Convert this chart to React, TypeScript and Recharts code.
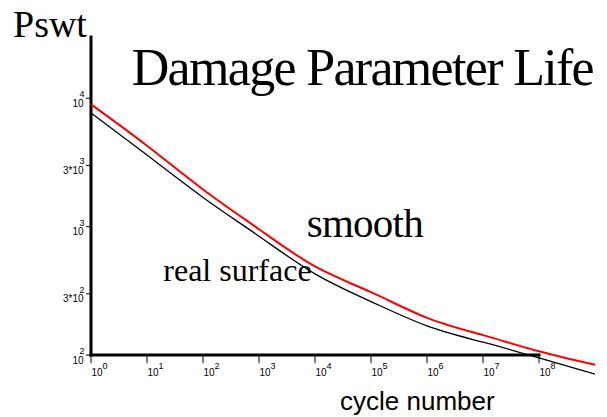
import React from 'react'
import { LineChart, Line, XAxis, YAxis, ReferenceLine, ReferenceDot } from 'recharts'

// cycle number (log scale), one point per decade
const cycles = [1, 1e1, 1e2, 1e3, 1e4, 1e5, 1e6, 1e7, 1e8, 1e9]
// damage parameter Pswt
const smooth = [8970, 4270, 1950, 955, 490, 309, 195, 143, 107, 84]
const realSurface = [7690, 3610, 1690, 843, 429, 261, 169, 126, 95, 71]

const xTicks = [1, 1e1, 1e2, 1e3, 1e4, 1e5, 1e6, 1e7, 1e8]
const yTicks = [100, 300, 1000, 3000, 10000]
const yDomain = [70, 30000]
const xDomain = [1, 1e9]
const axisBase = 100

const data = cycles.map((n, i) => ({ n, smooth: smooth[i], real: realSurface[i] }))

const SANS = '"Liberation Sans", Arial, sans-serif'
const SERIF = '"Liberation Serif", "Times New Roman", serif'

const splitPow = (v: number) => {
  const exp = Math.floor(Math.log10(v) + 1e-9)
  const mant = Math.round(v / Math.pow(10, exp))
  return { base: mant === 1 ? '10' : `${mant}*10`, exp: String(exp) }
}

const YTick = (props: { x?: number; y?: number; payload?: { value: number } }) => {
  const { x = 0, y = 0, payload } = props
  const { base, exp } = splitPow(payload?.value ?? 1)
  return (
    <g fontFamily={SANS} fill="#000">
      <text x={x - 0.5} y={y + 8.6} textAnchor="end" fontSize={10}>{base}</text>
      <text x={x + 0.5} y={y - 1} textAnchor="end" fontSize={9}>{exp}</text>
    </g>
  )
}

const XTickMark = (value: number) => (props: { cx?: number; cy?: number }) => {
  const { cx = 0, cy = 0 } = props
  const { base, exp } = splitPow(value)
  return (
    <g fontFamily={SANS} fill="#000">
      <line x1={cx} y1={cy + 1} x2={cx} y2={cy + 8} stroke="#000" strokeWidth={1} />
      <text x={cx + 0.4} y={cy + 21} fontSize={10}>{base}</text>
      <text x={cx + 11.4} y={cy + 14} fontSize={9}>{exp}</text>
    </g>
  )
}

export default function App() {
  return (
    <div style={{ position: 'absolute', left: 0, top: 0, width: 607, height: 417, background: '#fff' }}>
      <LineChart width={607} height={417} data={data} margin={{ top: 37, right: 12, bottom: 42, left: 0 }}>
        <XAxis type="number" dataKey="n" scale="log" domain={xDomain} hide />
        <YAxis
          type="number"
          scale="log"
          domain={yDomain}
          ticks={yTicks}
          width={91}
          axisLine={false}
          tickLine={{ stroke: '#000', strokeWidth: 1 }}
          tickSize={5}
          tickMargin={2}
          tick={<YTick />}
        />
        <ReferenceLine
          segment={[{ x: 1, y: axisBase }, { x: 1, y: 30000 }]}
          stroke="#000"
          strokeWidth={3}
          strokeLinecap="square"
          ifOverflow="visible"
        />
        <ReferenceLine
          segment={[{ x: 1, y: axisBase }, { x: 1e8, y: axisBase }]}
          stroke="#000"
          strokeWidth={3}
          strokeLinecap="square"
          ifOverflow="visible"
        />
        {xTicks.map(t => (
          <ReferenceDot key={t} x={t} y={axisBase} r={0} ifOverflow="visible" shape={XTickMark(t)} />
        ))}
        <Line type="natural" dataKey="real" stroke="#000" strokeWidth={1.3} dot={false} isAnimationActive={false} />
        <Line type="natural" dataKey="smooth" stroke="#ff0000" strokeWidth={2} dot={false} isAnimationActive={false} />
      </LineChart>
      <svg width={607} height={417} style={{ position: 'absolute', left: 0, top: 0, pointerEvents: 'none' }}>
        <text x={13} y={36.7} fontFamily={SERIF} fontSize={38} fill="#000">Pswt</text>
        <text x={131.7} y={85} fontFamily={SERIF} fontSize={52} textLength={463} lengthAdjust="spacing" fill="#000">Damage Parameter Life</text>
        <text x={306.7} y={236.7} fontFamily={SERIF} fontSize={41} textLength={117} lengthAdjust="spacing" fill="#000">smooth</text>
        <text x={163.3} y={281} fontFamily={SERIF} fontSize={32} fill="#000">real surface</text>
        <text x={340} y={410} fontFamily={SANS} fontSize={26} fill="#000">cycle number</text>
      </svg>
    </div>
  )
}
